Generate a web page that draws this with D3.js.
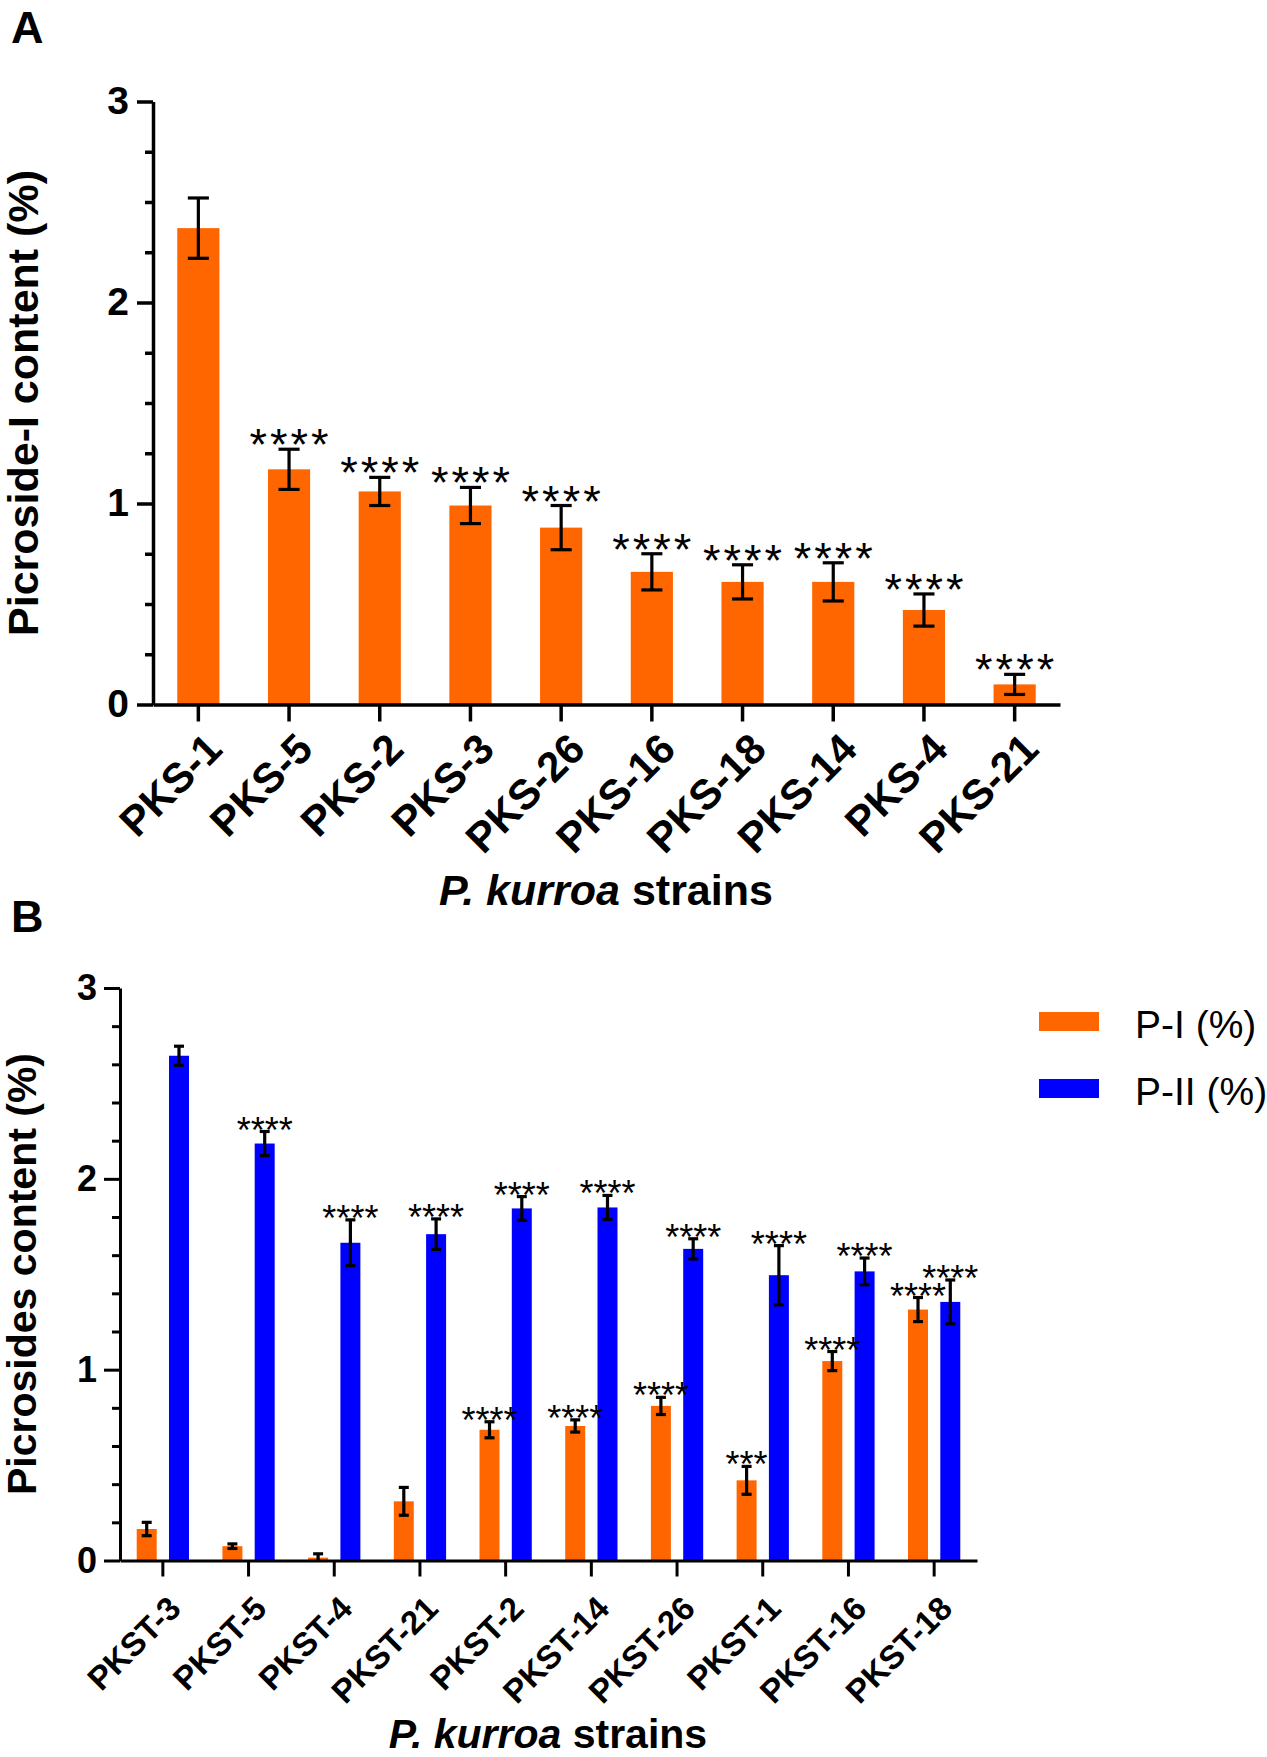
<!DOCTYPE html>
<meta charset="utf-8" />
<script src="https://d3js.org/d3.v7.min.js"></script>
<style>
  body { margin: 0; background: #fff; }
  svg text { font-family: "Liberation Sans", Arial, sans-serif; }
</style>
<div id="chart"></div>
<script>
  // ---- data ----
  // panel A : picroside-I content
  const strainsA = ["PKS-1", "PKS-5", "PKS-2", "PKS-3", "PKS-26", "PKS-16", "PKS-18", "PKS-14", "PKS-4", "PKS-21"];
  const valuesA = [2.37, 1.17, 1.06, 0.99, 0.88, 0.66, 0.61, 0.61, 0.47, 0.10];
  const errorsA = [0.15, 0.10, 0.07, 0.09, 0.11, 0.09, 0.085, 0.095, 0.08, 0.05];
  const starsA = ["", "****", "****", "****", "****", "****", "****", "****", "****", "****"];

  // panel B : P-I and P-II content
  const strainsB = ["PKST-3", "PKST-5", "PKST-4", "PKST-21", "PKST-2", "PKST-14", "PKST-26", "PKST-1", "PKST-16", "PKST-18"];
  const seriesB = ["P-I (%)", "P-II (%)"];
  const p1Values = [0.165, 0.075, 0.015, 0.31, 0.685, 0.705, 0.81, 0.42, 1.045, 1.315];
  const p1Errors = [0.035, 0.012, 0.02, 0.073, 0.042, 0.032, 0.045, 0.073, 0.05, 0.063];
  const p1Stars = ["", "", "", "", "****", "****", "****", "***", "****", "****"];
  const p2Values = [2.645, 2.185, 1.665, 1.71, 1.845, 1.85, 1.633, 1.495, 1.515, 1.355];
  const p2Errors = [0.05, 0.063, 0.12, 0.08, 0.062, 0.063, 0.053, 0.155, 0.07, 0.115];
  const p2Stars = ["", "****", "****", "****", "****", "****", "****", "****", "****", "****"];

  const yTicks = [0, 1, 2, 3];
  const minorA = [0.25, 0.5, 0.75, 1.25, 1.5, 1.75, 2.25, 2.5, 2.75];
  const minorB = [0.2, 0.4, 0.6, 0.8, 1.2, 1.4, 1.6, 1.8, 2.2, 2.4, 2.6, 2.8];

  const orange = "#FF6600", blue = "#0000FF";

  const svg = d3.select("#chart").append("svg")
    .attr("width", 1267)
    .attr("height", 1757);

  // helper to style an axis group
  function styleAxis(g, lw) {
    g.selectAll("path, line").attr("stroke", "#000").attr("stroke-width", lw);
  }

  // =================== PANEL A ===================
  const xA = d3.scaleBand().domain(strainsA).range([153, 1060])
    .paddingInner(0.535).paddingOuter(0.2675);
  const yA = d3.scaleLinear().domain([0, 3]).range([704.5, 101.5]);

  const dataA = strainsA.map((s, i) => ({ s: s, v: valuesA[i], e: errorsA[i], st: starsA[i] }));

  svg.append("text").attr("x", 11).attr("y", 43)
    .style("font-size", "45px").style("font-weight", "bold").text("A");

  svg.append("g").selectAll("rect").data(dataA).join("rect")
    .attr("x", d => xA(d.s))
    .attr("y", d => yA(d.v))
    .attr("width", xA.bandwidth())
    .attr("height", d => yA(0) - yA(d.v))
    .attr("fill", orange);

  const errA = svg.append("g").attr("stroke", "#000").attr("stroke-width", 3.2);
  const capA = xA.bandwidth() / 4;
  dataA.forEach(d => {
    const cx = xA(d.s) + xA.bandwidth() / 2;
    errA.append("line").attr("x1", cx).attr("x2", cx).attr("y1", yA(d.v - d.e)).attr("y2", yA(d.v + d.e));
    errA.append("line").attr("x1", cx - capA).attr("x2", cx + capA).attr("y1", yA(d.v + d.e)).attr("y2", yA(d.v + d.e));
    errA.append("line").attr("x1", cx - capA).attr("x2", cx + capA).attr("y1", yA(d.v - d.e)).attr("y2", yA(d.v - d.e));
  });

  svg.append("g").selectAll("text").data(dataA.filter(d => d.st)).join("text")
    .attr("x", d => xA(d.s) + xA.bandwidth() / 2 + 1.5)
    .attr("y", d => yA(d.v + d.e) + 11)
    .attr("text-anchor", "middle")
    .style("font-size", "45px")
    .style("letter-spacing", "3px")
    .text(d => d.st);

  // y axis A
  const yAxA = svg.append("g").attr("transform", "translate(153,0)")
    .call(d3.axisLeft(yA).tickValues(yTicks).tickSize(16).tickSizeOuter(0).tickPadding(8).tickFormat(d3.format("d")));
  yAxA.selectAll("text").style("font-size", "39px").style("font-weight", "bold").attr("fill", "#000");
  styleAxis(yAxA, 3.5);
  const yMinA = svg.append("g").attr("transform", "translate(153,0)")
    .call(d3.axisLeft(yA).tickValues(minorA).tickSize(8).tickFormat(""));
  yMinA.select(".domain").remove();
  styleAxis(yMinA, 3.5);

  // x axis A
  const xAxA = svg.append("g").attr("transform", "translate(0,704.5)")
    .call(d3.axisBottom(xA).tickSize(17).tickSizeOuter(0));
  styleAxis(xAxA, 3.5);
  xAxA.selectAll("text")
    .attr("x", 0).attr("y", 0).attr("dy", 0)
    .attr("text-anchor", "end")
    .attr("transform", "translate(26,47) rotate(-45)")
    .attr("fill", "#000")
    .style("font-size", "42px").style("font-weight", "bold");

  svg.append("text")
    .attr("transform", "translate(38,403) rotate(-90)")
    .attr("text-anchor", "middle")
    .style("font-size", "43px").style("font-weight", "bold")
    .text("Picroside-I content (%)");

  const titleA = svg.append("text").attr("x", 606).attr("y", 905)
    .attr("text-anchor", "middle")
    .style("font-size", "43px").style("font-weight", "bold");
  titleA.append("tspan").style("font-style", "italic").text("P. kurroa");
  titleA.append("tspan").text(" strains");

  // =================== PANEL B ===================
  const x0B = d3.scaleBand().domain(strainsB).range([120, 977])
    .paddingInner(0.39).paddingOuter(0.195);
  const x1B = d3.scaleBand().domain(seriesB).range([0, x0B.bandwidth()]).paddingInner(0.381);
  const yB = d3.scaleLinear().domain([0, 3]).range([1560.5, 988]);
  const colorB = d3.scaleOrdinal().domain(seriesB).range([orange, blue]);

  const dataB = [];
  strainsB.forEach((s, i) => {
    dataB.push({ s: s, k: seriesB[0], v: p1Values[i], e: p1Errors[i], st: p1Stars[i] });
    dataB.push({ s: s, k: seriesB[1], v: p2Values[i], e: p2Errors[i], st: p2Stars[i] });
  });

  svg.append("text").attr("x", 11).attr("y", 932)
    .style("font-size", "45px").style("font-weight", "bold").text("B");

  svg.append("g").selectAll("rect").data(dataB).join("rect")
    .attr("x", d => x0B(d.s) + x1B(d.k))
    .attr("y", d => yB(d.v))
    .attr("width", x1B.bandwidth())
    .attr("height", d => yB(0) - yB(d.v))
    .attr("fill", d => colorB(d.k));

  const errB = svg.append("g").attr("stroke", "#000").attr("stroke-width", 3.2);
  const capB = x1B.bandwidth() / 4;
  dataB.forEach(d => {
    const cx = x0B(d.s) + x1B(d.k) + x1B.bandwidth() / 2;
    errB.append("line").attr("x1", cx).attr("x2", cx).attr("y1", yB(Math.max(0, d.v - d.e))).attr("y2", yB(d.v + d.e));
    errB.append("line").attr("x1", cx - capB).attr("x2", cx + capB).attr("y1", yB(d.v + d.e)).attr("y2", yB(d.v + d.e));
    if (d.v - d.e > 0)
      errB.append("line").attr("x1", cx - capB).attr("x2", cx + capB).attr("y1", yB(d.v - d.e)).attr("y2", yB(d.v - d.e));
  });

  svg.append("g").selectAll("text").data(dataB.filter(d => d.st)).join("text")
    .attr("x", d => x0B(d.s) + x1B(d.k) + x1B.bandwidth() / 2)
    .attr("y", d => yB(d.v + d.e) + 11)
    .attr("text-anchor", "middle")
    .style("font-size", "36px")
    .text(d => d.st);

  const yAxB = svg.append("g").attr("transform", "translate(120,0)")
    .call(d3.axisLeft(yB).tickValues(yTicks).tickSize(16).tickSizeOuter(0).tickPadding(7).tickFormat(d3.format("d")));
  yAxB.selectAll("text").style("font-size", "36px").style("font-weight", "bold").attr("fill", "#000");
  styleAxis(yAxB, 3);
  const yMinB = svg.append("g").attr("transform", "translate(120,0)")
    .call(d3.axisLeft(yB).tickValues(minorB).tickSize(8).tickFormat(""));
  yMinB.select(".domain").remove();
  styleAxis(yMinB, 3);

  const xAxB = svg.append("g").attr("transform", "translate(0,1560.5)")
    .call(d3.axisBottom(x0B).tickSize(16).tickSizeOuter(0));
  styleAxis(xAxB, 3);
  xAxB.selectAll("text")
    .attr("x", 0).attr("y", 0).attr("dy", 0)
    .attr("text-anchor", "end")
    .attr("transform", "translate(20,50) rotate(-45)")
    .attr("fill", "#000")
    .style("font-size", "33px").style("font-weight", "bold");

  svg.append("text")
    .attr("transform", "translate(36,1274) rotate(-90)")
    .attr("text-anchor", "middle")
    .style("font-size", "41px").style("font-weight", "bold")
    .text("Picrosides content (%)");

  const titleB = svg.append("text").attr("x", 548).attr("y", 1748)
    .attr("text-anchor", "middle")
    .style("font-size", "41px").style("font-weight", "bold");
  titleB.append("tspan").style("font-style", "italic").text("P. kurroa");
  titleB.append("tspan").text(" strains");

  // legend
  const legend = svg.append("g").selectAll("g").data(seriesB).join("g")
    .attr("transform", (d, i) => `translate(1039,${1012 + i * 67})`);
  legend.append("rect").attr("width", 60).attr("height", 19).attr("fill", d => colorB(d));
  legend.append("text").attr("x", 96).attr("y", 25.5)
    .style("font-size", "39px")
    .text(d => d);
</script>
